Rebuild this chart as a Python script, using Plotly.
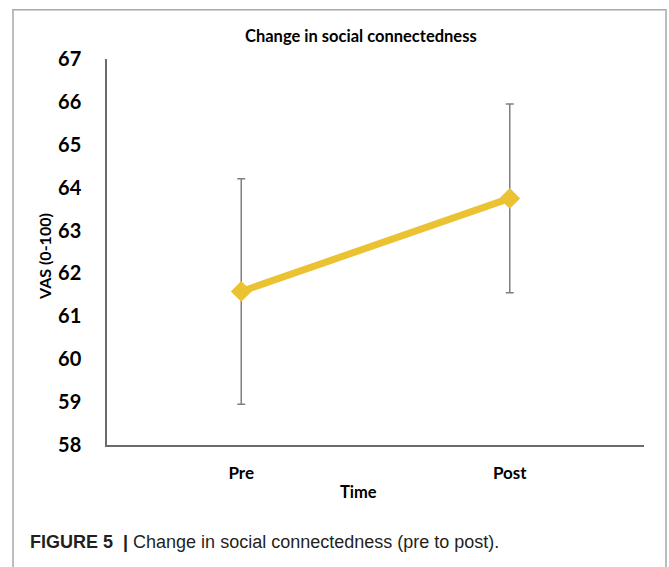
import plotly.graph_objects as go

# ---- data ----
categories = ["Pre", "Post"]
means = [61.58, 63.75]
errors = [2.63, 2.2]
y_ticks = [58, 59, 60, 61, 62, 63, 64, 65, 66, 67]

title_text = "Change in social connectedness"
x_title = "Time"
y_title = "VAS (0-100)"
caption_bold = "FIGURE 5 &nbsp;|&nbsp;"
caption_rest = "Change in social connectedness (pre to post)."

# ---- layout geometry (pixels) ----
W, H = 669, 567
L, R, T, B = 107, 25, 58.5, 121.5
PW, PH = W - L - R, H - T - B


def px2x(px):
    return (px - L) / PW


def py2y(py):
    return (H - B - py) / PH


CHART_FONT = "Lato"
GOLD = "#EAC232"

fig = go.Figure()
fig.add_trace(go.Scatter(
    x=categories,
    y=means,
    mode="lines+markers",
    line=dict(color=GOLD, width=7),
    marker=dict(symbol="diamond", size=16, color=GOLD),
    error_y=dict(type="data", array=errors, visible=True,
                 color="#7f7f7f", thickness=1.5, width=4),
    showlegend=False,
    hoverinfo="skip",
))

fig.update_layout(
    width=W, height=H, autosize=False,
    margin=dict(l=L, r=R, t=T, b=B),
    paper_bgcolor="white", plot_bgcolor="white",
    xaxis=dict(
        type="category", range=[-0.5, 1.5],
        showline=True, linecolor="#6b6b6b", linewidth=2.2,
        showgrid=False, zeroline=False, ticks="",
        tickfont=dict(family=CHART_FONT, size=17, color="black", weight="bold"),
        ticklabelstandoff=11,
    ),
    yaxis=dict(
        range=[58, 67], tickvals=y_ticks,
        showline=True, linecolor="#6b6b6b", linewidth=1.5,
        showgrid=False, zeroline=False, ticks="",
        tickfont=dict(family=CHART_FONT, size=20, color="black", weight="bold"),
        ticklabelstandoff=20,
    ),
    shapes=[dict(
        type="rect", xref="paper", yref="paper",
        x0=px2x(13), x1=px2x(666), y0=py2y(620), y1=py2y(9),
        line=dict(color="#a8a8a8", width=1.5), fillcolor="rgba(0,0,0,0)",
        layer="below",
    )],
    annotations=[
        dict(text=title_text, xref="paper", yref="paper",
             x=px2x(360.5), y=py2y(35), xanchor="center", yanchor="middle",
             showarrow=False,
             font=dict(family=CHART_FONT, size=16.5, color="black", weight="bold")),
        dict(text=x_title, xref="paper", yref="paper",
             x=px2x(358), y=py2y(493), xanchor="center", yanchor="middle",
             showarrow=False,
             font=dict(family=CHART_FONT, size=16.5, color="black", weight="bold")),
        dict(text=y_title, xref="paper", yref="paper",
             x=px2x(45), y=py2y(257), xanchor="center", yanchor="middle",
             textangle=-90, showarrow=False,
             font=dict(family=CHART_FONT, size=16, color="black", weight="bold")),
        dict(text="<b>" + caption_bold + "</b>" + caption_rest,
             xref="paper", yref="paper",
             x=px2x(28), y=py2y(543), xanchor="left", yanchor="middle",
             showarrow=False,
             font=dict(family="Liberation Sans", size=18, color="#231f20")),
    ],
)

fig.write_html("out.html")
